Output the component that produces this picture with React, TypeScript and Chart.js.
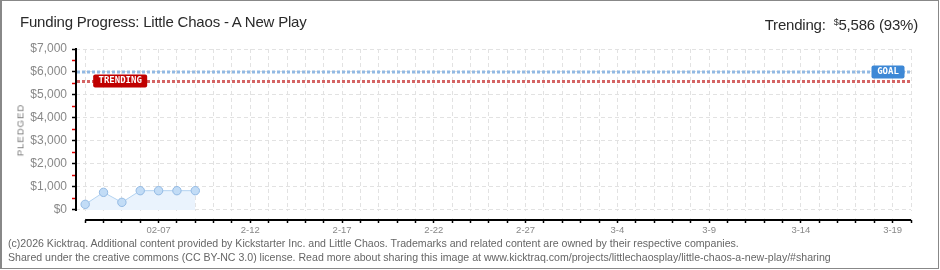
import { useEffect, useRef } from 'react';
import { Chart, registerables } from 'chart.js';
Chart.register(...registerables);

const days = [
  '02-03', '02-04', '02-05', '02-06', '02-07', '02-08', '02-09', '2-10', '2-11', '2-12',
  '2-13', '2-14', '2-15', '2-16', '2-17', '2-18', '2-19', '2-20', '2-21', '2-22',
  '2-23', '2-24', '2-25', '2-26', '2-27', '2-28', '3-1', '3-2', '3-3', '3-4',
  '3-5', '3-6', '3-7', '3-8', '3-9', '3-10', '3-11', '3-12', '3-13', '3-14',
  '3-15', '3-16', '3-17', '3-18', '3-19', '3-20',
];
const labeledDays = ['02-07', '2-12', '2-17', '2-22', '2-27', '3-4', '3-9', '3-14', '3-19'];
const pledged = [245, 768, 333, 840, 840, 840, 840];
const yTickValues = [0, 500, 1000, 1500, 2000, 2500, 3000, 3500, 4000, 4500, 5000, 5500, 6000, 6500, 7000];
const yLabelValues = [0, 1000, 2000, 3000, 4000, 5000, 6000, 7000];
const goal = 6000;
const trending = 5586;
const trendingPct = 93;
const yMax = 7000;
const yMin = -435;

const title = 'Funding Progress: Little Chaos - A New Play';
const footer1 = '(c)2026 Kicktraq. Additional content provided by Kickstarter Inc. and Little Chaos. Trademarks and related content are owned by their respective companies.';
const footer2 = 'Shared under the creative commons (CC BY-NC 3.0) license. Read more about sharing this image at www.kicktraq.com/projects/littlechaosplay/little-chaos-a-new-play/#sharing';

const FONT = '"Liberation Sans", Arial, sans-serif';

export default function App() {
  const ref = useRef<HTMLCanvasElement>(null);
  useEffect(() => {
    document.body.style.margin = '0';
    const canvas = ref.current!;
    const plugin = {
      id: 'kt',
      beforeDatasetsDraw(chart: any) {
        const { ctx, chartArea, scales } = chart;
        const x = scales.x, y = scales.y;
        const y0 = y.getPixelForValue(0);
        ctx.save();
        ctx.fillStyle = '#fff';
        ctx.fillRect(chartArea.left + 1, y0 + 1, chartArea.right - chartArea.left + 2, chartArea.bottom - y0 - 2.5);
        ctx.strokeStyle = '#000';
        ctx.lineWidth = 2;
        ctx.beginPath();
        ctx.moveTo(chartArea.left, y.getPixelForValue(yMax) - 1);
        ctx.lineTo(chartArea.left, y0 + 1);
        ctx.moveTo(x.getPixelForValue(0), chartArea.bottom);
        ctx.lineTo(x.getPixelForValue(days.length - 1), chartArea.bottom);
        ctx.stroke();
        ctx.restore();
      },
      afterDatasetsDraw(chart: any) {
        const { ctx, chartArea, scales } = chart;
        const x = scales.x, y = scales.y;
        const gy = y.getPixelForValue(goal);
        const ty = y.getPixelForValue(trending);
        ctx.save();
        ctx.lineWidth = 3;
        ctx.setLineDash([3, 2]);
        ctx.strokeStyle = '#92b9e3';
        ctx.beginPath();
        ctx.moveTo(chartArea.left + 1, gy);
        ctx.lineTo(chartArea.right, gy);
        ctx.stroke();
        ctx.strokeStyle = '#d46464';
        ctx.beginPath();
        ctx.moveTo(chartArea.left + 1, ty);
        ctx.lineTo(chartArea.right, ty);
        ctx.stroke();
        ctx.setLineDash([]);
        ctx.font = 'bold 9px "DejaVu Sans Mono", monospace';
        ctx.textBaseline = 'middle';
        ctx.textAlign = 'center';
        const tx = x.getPixelForValue(0) + 8;
        ctx.fillStyle = '#c00000';
        ctx.beginPath();
        ctx.roundRect(tx, ty - 7, 54, 13, 2);
        ctx.fill();
        ctx.fillStyle = '#fff';
        ctx.fillText('TRENDING', tx + 27, ty - 0.5);
        const gx = chartArea.right - 6.5 - 33;
        ctx.fillStyle = '#3d88d6';
        ctx.beginPath();
        ctx.roundRect(gx, gy - 6.5, 33, 13, 2);
        ctx.fill();
        ctx.fillStyle = '#fff';
        ctx.fillText('GOAL', gx + 16.5, gy);
        ctx.restore();
      },
    };
    const chart = new Chart(canvas, {
      type: 'line',
      data: {
        datasets: [
          {
            data: pledged.map((v, i) => ({ x: i, y: v })),
            borderColor: '#b3d3f1',
            borderWidth: 1,
            backgroundColor: '#eaf3fd',
            fill: 'origin',
            pointRadius: 4.2,
            pointBackgroundColor: '#c2dcf6',
            pointBorderColor: '#93bae4',
            pointBorderWidth: 1,
            tension: 0,
          },
        ],
      },
      options: {
        animation: false,
        responsive: false,
        maintainAspectRatio: false,
        layout: { padding: { top: 49, right: 29, left: 0, bottom: 0 } },
        plugins: { legend: { display: false }, tooltip: { enabled: false }, title: { display: false } },
        scales: {
          x: {
            type: 'linear',
            min: -0.5,
            max: days.length - 1,
            afterFit: (s: any) => { s.height = 50; },
            afterBuildTicks: (s: any) => { s.ticks = days.map((_, i) => ({ value: i })); },
            border: { display: false, dash: [4, 3] },
            grid: { color: '#e2e2e2', lineWidth: 1, tickLength: 3, tickColor: '#000', tickWidth: 1.5 },
            ticks: {
              autoSkip: false,
              maxRotation: 0,
              padding: 2,
              color: '#888',
              font: { size: 9.5, family: FONT },
              callback: (v: any) => {
                const d = days[v as number];
                return labeledDays.includes(d) ? d : '';
              },
            },
          },
          y: {
            min: yMin,
            max: yMax,
            afterFit: (s: any) => { s.width = 76; },
            afterBuildTicks: (s: any) => { s.ticks = yTickValues.map((v) => ({ value: v })); },
            border: { display: false, dash: [4, 3] },
            grid: {
              color: (c: any) => (c.tick && yLabelValues.includes(c.tick.value) ? '#e2e2e2' : 'rgba(0,0,0,0)'),
              lineWidth: 1,
              tickLength: 4,
              tickWidth: 1.5,
              tickColor: (c: any) => (c.tick && yLabelValues.includes(c.tick.value) ? '#000' : '#e00000'),
            },
            ticks: {
              autoSkip: false,
              padding: 5,
              color: '#888',
              font: { size: 12, family: FONT },
              callback: (v: any) => (yLabelValues.includes(v) ? '$' + Number(v).toLocaleString('en-US') : ''),
            },
          },
        },
      },
      plugins: [plugin],
    });
    return () => chart.destroy();
  }, []);

  return (
    <div style={{ position: 'relative', width: 940, height: 270, background: '#fff', overflow: 'hidden', fontFamily: FONT }}>
      <canvas ref={ref} width={940} height={270} style={{ display: 'block', position: 'absolute', left: 0, top: 0 }} />
      <div style={{ position: 'absolute', left: 20, top: 14, fontSize: 15, lineHeight: '16px', color: '#2a2a2a', whiteSpace: 'nowrap', letterSpacing: '-0.2px' }}>
        {title}
      </div>
      <div style={{ position: 'absolute', right: 22, top: 14, fontSize: 15, lineHeight: '16px', color: '#2a2a2a', whiteSpace: 'nowrap', letterSpacing: '-0.2px' }}>
        Trending:&nbsp;&nbsp;<span style={{ fontSize: 9, verticalAlign: 5 }}>$</span>5,586 ({trendingPct}%)
      </div>
      <div style={{ position: 'absolute', left: 20, top: 130, width: 0, height: 0 }}>
        <div style={{ position: 'absolute', transform: 'translate(-50%, -50%) rotate(-90deg)', fontSize: 9.5, letterSpacing: '1px', color: '#777', whiteSpace: 'nowrap' }}>
          PLEDGED
        </div>
      </div>
      <div style={{ position: 'absolute', left: 8, top: 236, fontSize: 10.6, lineHeight: '14px', color: '#666', whiteSpace: 'nowrap' }}>
        <div>{footer1}</div>
        <div>{footer2}</div>
      </div>
      <div style={{ position: 'absolute', left: 0, top: 0, width: 939, height: 269, borderTop: '1px solid #888', borderLeft: '2px solid #888', borderRight: '1px solid #888', borderBottom: '1px solid #888', boxSizing: 'border-box', pointerEvents: 'none' }} />
    </div>
  );
}
